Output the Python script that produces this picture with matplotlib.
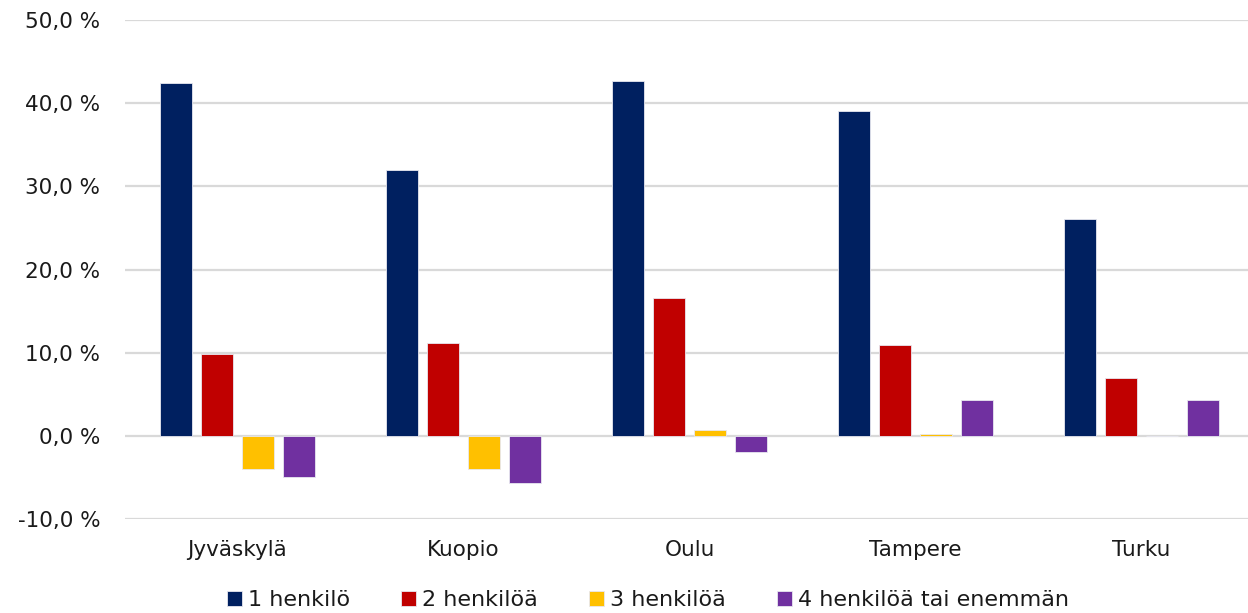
import matplotlib
matplotlib.use("Agg")
import matplotlib.pyplot as plt
import numpy as np

categories = ["Jyväskylä", "Kuopio", "Oulu", "Tampere", "Turku"]
series_names = ["1 henkilö", "2 henkilöä", "3 henkilöä", "4 henkilöä tai enemmän"]
s1 = [42.4, 32.0, 42.7, 39.1, 26.1]
s2 = [9.9, 11.2, 16.6, 10.9, 7.0]
s3 = [-4.0, -4.0, 0.7, 0.2, 0.0]
s4 = [-4.9, -5.7, -2.0, 4.3, 4.3]
colors = ["#002060", "#C00000", "#FFC000", "#7030A0"]
yticks = [-10, 0, 10, 20, 30, 40, 50]

plt.rcParams['font.family'] = ['DejaVu Sans']

fig = plt.figure(figsize=(12.48, 6.13), dpi=100)
ax = fig.add_axes([124.5 / 1248, 0.1533, 1130 / 1248, 0.8141])

x = np.arange(len(categories))
pitch = 0.1814
width = 0.1416
for i, (vals, name, c) in enumerate(zip([s1, s2, s3, s4], series_names, colors)):
    ax.bar(x + (i - 1.5) * pitch, vals, width=width, color=c, label=name,
           edgecolor="#e8e8f0", linewidth=0.6, zorder=3)

ax.set_xlim(-0.5, len(categories) - 0.5)
ax.set_ylim(-10, 50)
ax.set_yticks(yticks)
ax.set_yticklabels([f"{v:.1f}".replace(".", ",") + " %" for v in yticks])
ax.set_xticks(x)
ax.set_xticklabels(categories)
ax.tick_params(axis="both", length=0, labelsize=15.5, colors="#1a1a1a")
ax.tick_params(axis="y", pad=17.5)
ax.tick_params(axis="x", pad=15)
ax.grid(axis="y", color="#d9d9d9", linewidth=1.6, zorder=0)
for s in ax.spines.values():
    s.set_visible(False)

leg = fig.legend(loc="center", bbox_to_anchor=(0.519, 0.021), ncol=4, frameon=False,
                 fontsize=16, handlelength=0.7, handleheight=0.7,
                 handletextpad=0.25, columnspacing=2.3)
for t in leg.get_texts():
    t.set_color("#1a1a1a")

fig.savefig("out.png", dpi=100)
